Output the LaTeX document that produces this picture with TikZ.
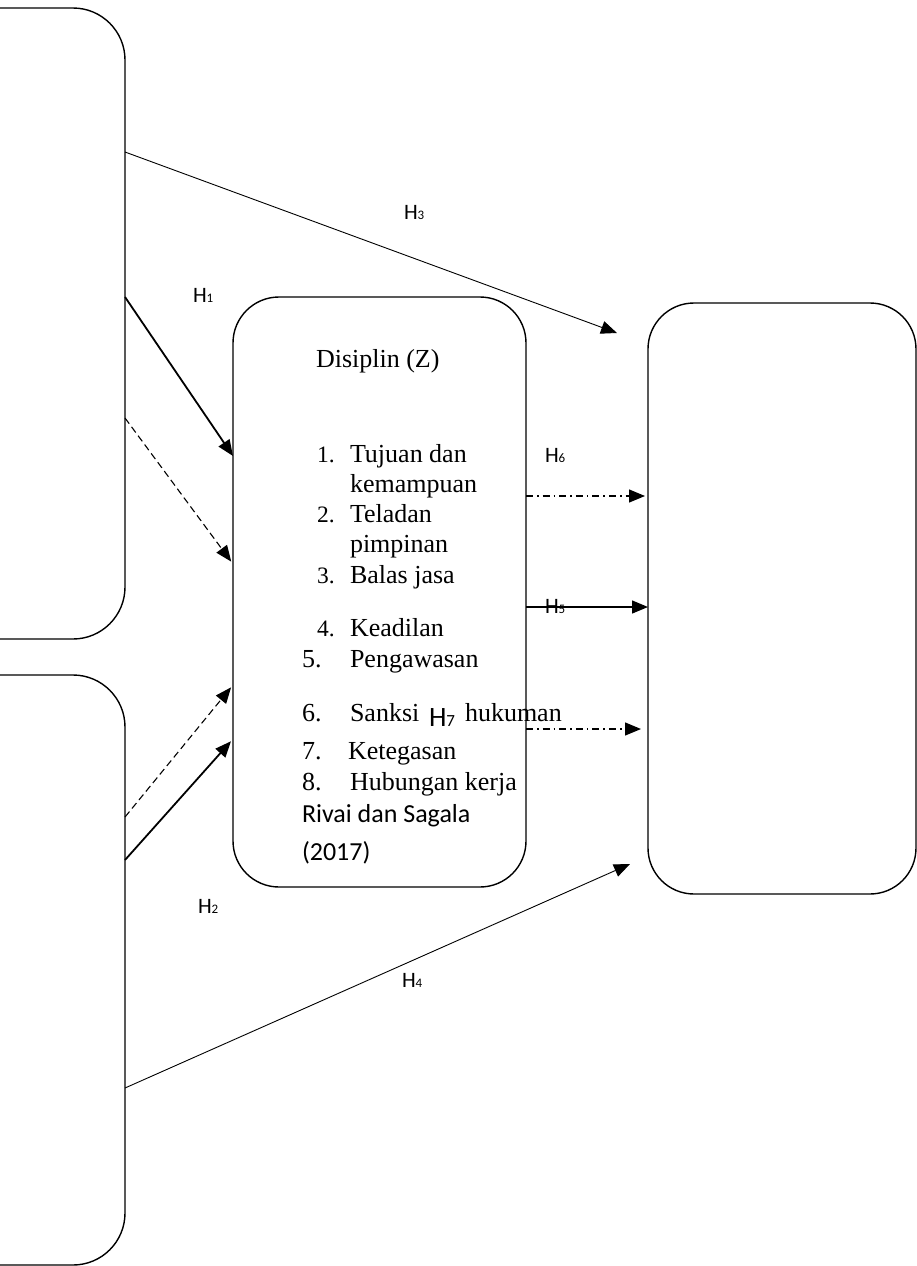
\documentclass[tikz,border=0pt]{standalone}
\usepackage{fontspec}
\setmainfont{Liberation Serif}
\newfontfamily\carl{Carlito}
\usetikzlibrary{arrows.meta}
\newcommand\Hlab[2][13]{{\carl H{\fontsize{#1}{#1}\selectfont #2}}}
\begin{document}
\begin{tikzpicture}[x=1pt,y=-1pt,
  box/.style={draw, line width=1.4pt, rounded corners=#1, inner sep=0pt, outer sep=0pt},
  box/.default=48pt,
  txt/.style={anchor=base west, inner sep=0pt, outer sep=0pt, font=\fontsize{26}{30}\selectfont},
  num/.style={anchor=base west, inner sep=0pt, outer sep=0pt, font=\fontsize{23.5}{26}\selectfont},
  hl/.style={anchor=base west, inner sep=0pt, outer sep=0pt, font=\carl\fontsize{22}{26}\selectfont},
  tip/.style={-{Triangle[length=16pt,width=13pt]}},
  thinarr/.style={tip, line width=0.9pt},
  thickarr/.style={tip, line width=1.8pt},
  dasharr/.style={tip, line width=1.1pt, dash pattern=on 7pt off 4pt},
  dotdasharr/.style={tip, line width=1.3pt, dash pattern=on 7pt off 4pt on 1.6pt off 4pt},
  solidarr/.style={tip, line width=1.4pt}
]
\useasboundingbox (0,0) rectangle (917,1266);

% boxes
\node[box=52pt, minimum width=185pt, minimum height=631pt] (X1) at (32.5,323.5) {};
\node[box=52pt, minimum width=185pt, minimum height=590pt] (X2) at (32.5,970) {};
\node[box=46pt, minimum width=293pt, minimum height=590pt] (Z) at (379.5,592) {};
\node[box=46pt, minimum width=268pt, minimum height=591pt] (Y) at (782,598.5) {};

% free ends
\coordinate (h3e) at (617,333);
\coordinate (h4e) at (630,864);

% connectors
\draw[thinarr] (X1.east |- 0,152) -- (h3e);
\draw[thickarr] (X1.east |- 0,297) -- (Z.west |- 0,456);
\draw[dasharr, shorten >=3pt] (X1.east |- 0,418) -- (Z.west |- 0,564);
\draw[dasharr, shorten >=3pt] (X2.east |- 0,817) -- (Z.west |- 0,685);
\draw[thickarr, shorten >=3pt] (X2.east |- 0,860) -- (Z.west |- 0,739);
\draw[thinarr] (X2.east |- 0,1088) -- (h4e);
\draw[dotdasharr, shorten >=3pt] (Z.east |- 0,496) -- (Y.west |- 0,496);
\draw[solidarr] (Z.east |- 0,607) -- (Y.west |- 0,607);
\draw[dotdasharr, shorten >=7pt] (Z.east |- 0,729) -- (Y.west |- 0,729);

% hypothesis labels
\node[hl] (l3) at (404,219) {\Hlab{3}};
\node[hl] (l1) at (193,302) {\Hlab{1}};
\node[hl] (l6) at (545,462) {\Hlab{6}};
\node[hl] (l5) at (545,613) {\Hlab{5}};
\node[hl, font=\carl\fontsize{28}{30}\selectfont] (l7) at (429,726) {\Hlab[17]{7}};
\node[hl] (l2) at (198,913) {\Hlab{2}};
\node[hl] (l4) at (402,987) {\Hlab{4}};

% middle box text
\node[txt] (t0) at (316,367) {Disiplin (Z)};
\node[num] (n1) at (317,462) {1.};
\node[txt] (i1a) at (350,462) {Tujuan dan};
\node[txt] (i1b) at (350,492) {kemampuan};
\node[num] (n2) at (317,522) {2.};
\node[txt] (i2a) at (350,522) {Teladan};
\node[txt] (i2b) at (350,552) {pimpinan};
\node[num] (n3) at (317,583) {3.};
\node[txt] (i3) at (350,583) {Balas jasa};
\node[num] (n4) at (317,636) {4.};
\node[txt] (i4) at (350,636) {Keadilan};
\node[txt] (n5) at (302,667) {5.};
\node[txt] (i5) at (350,667) {Pengawasan};
\node[txt] (n6) at (302,721) {6.};
\node[txt] (i6a) at (350,721) {Sanksi};
\node[txt] (i6b) at (465,721) {hukuman};
\node[txt] (n7) at (302,759) {7.};
\node[txt] (i7) at (348,759) {Ketegasan};
\node[txt] (n8) at (302,790) {8.};
\node[txt] (i8) at (350,790) {Hubungan kerja};
\node[txt, font=\carl\fontsize{26}{30}\selectfont] (r1) at (302,822) {Rivai dan Sagala};
\node[txt, font=\carl\fontsize{26}{30}\selectfont] (r2) at (302,860) {(2017)};
\end{tikzpicture}
\end{document}
